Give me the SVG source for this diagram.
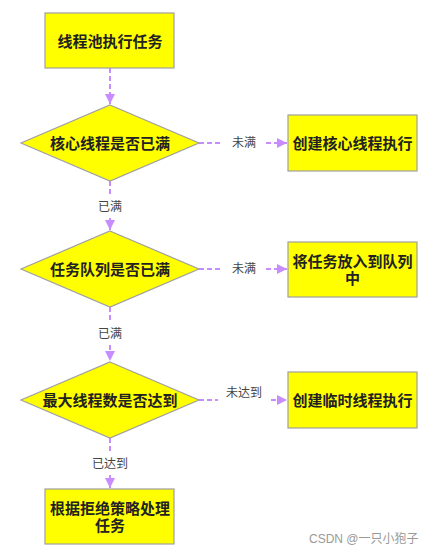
<svg xmlns="http://www.w3.org/2000/svg" width="437" height="554" viewBox="0 0 437 554">
<style>
.node{fill:#ffff00;stroke:#a0a0a0;stroke-width:1.2}
.nt{font-family:"Liberation Sans","Noto Sans CJK SC",sans-serif;font-size:15px;font-weight:bold;fill:#222;text-anchor:middle;dominant-baseline:central}
.lbl{font-family:"Liberation Sans","Noto Sans CJK SC",sans-serif;font-size:12px;fill:#444;text-anchor:middle;dominant-baseline:central}
.edge{stroke:#c78cff;stroke-width:2;stroke-dasharray:5 3;fill:none}
.wm{font-family:"Liberation Sans","Noto Sans CJK SC",sans-serif;font-size:12px;fill:#999}
</style>
<defs>
<marker id="arr" viewBox="0 0 10 10" refX="10" refY="5" markerWidth="5" markerHeight="5" orient="auto" markerUnits="strokeWidth">
<path d="M0,0 L10,5 L0,10 z" fill="#c78cff"/>
</marker>
</defs>
<rect width="437" height="554" fill="#fff"/>
<g id="connectors">
<line class="edge" x1="110" y1="68" x2="110" y2="104" marker-end="url(#arr)"/>
<line class="edge" x1="110" y1="181" x2="110" y2="197"/>
<line class="edge" x1="110" y1="218" x2="110" y2="230" marker-end="url(#arr)"/>
<line class="edge" x1="110" y1="307" x2="110" y2="323"/>
<line class="edge" x1="110" y1="345" x2="110" y2="361" marker-end="url(#arr)"/>
<line class="edge" x1="110" y1="438" x2="110" y2="454"/>
<line class="edge" x1="110" y1="475" x2="110" y2="488" marker-end="url(#arr)"/>
<line class="edge" x1="199" y1="143" x2="223" y2="143"/>
<line class="edge" x1="266" y1="143" x2="287" y2="143" marker-end="url(#arr)"/>
<line class="edge" x1="199" y1="269" x2="223" y2="269"/>
<line class="edge" x1="266" y1="269" x2="287" y2="269" marker-end="url(#arr)"/>
<line class="edge" x1="199" y1="400" x2="218" y2="400"/>
<line class="edge" x1="271" y1="400" x2="287" y2="400" marker-end="url(#arr)"/>
<text class="lbl" x="110" y="207">已满</text>
<text class="lbl" x="110" y="334">已满</text>
<text class="lbl" x="110" y="464">已达到</text>
<text class="lbl" x="244" y="143">未满</text>
<text class="lbl" x="244" y="269">未满</text>
<text class="lbl" x="244" y="393">未达到</text>
</g>
<g id="start">
<rect class="node" x="45" y="13" width="129" height="55"/>
<text class="nt" x="110" y="41">线程池执行任务</text>
</g>
<g id="d1">
<polygon class="node" points="110,105 199,143 110,181 21,143"/>
<text class="nt" x="110" y="143">核心线程是否已满</text>
</g>
<g id="n1">
<rect class="node" x="288" y="115" width="129" height="56"/>
<text class="nt" x="352.5" y="143">创建核心线程执行</text>
</g>
<g id="d2">
<polygon class="node" points="110,231 199,269 110,307 21,269"/>
<text class="nt" x="110" y="269">任务队列是否已满</text>
</g>
<g id="n2">
<rect class="node" x="288" y="242" width="129" height="55"/>
<text class="nt" x="352.5" y="260.5"><tspan x="352.5" y="260.5">将任务放入到队列</tspan><tspan x="352.5" y="278">中</tspan></text>
</g>
<g id="d3">
<polygon class="node" points="110,362 199,400 110,438 21,400"/>
<text class="nt" x="110" y="400">最大线程数是否达到</text>
</g>
<g id="n3">
<rect class="node" x="288" y="372" width="129" height="56"/>
<text class="nt" x="352.5" y="400">创建临时线程执行</text>
</g>
<g id="n4">
<rect class="node" x="45" y="489" width="129" height="55"/>
<text class="nt" x="110" y="507.5"><tspan x="110" y="507.5">根据拒绝策略处理</tspan><tspan x="110" y="525">任务</tspan></text>
</g>
<text class="wm" x="309" y="543">CSDN @一只小狍子</text>
</svg>
